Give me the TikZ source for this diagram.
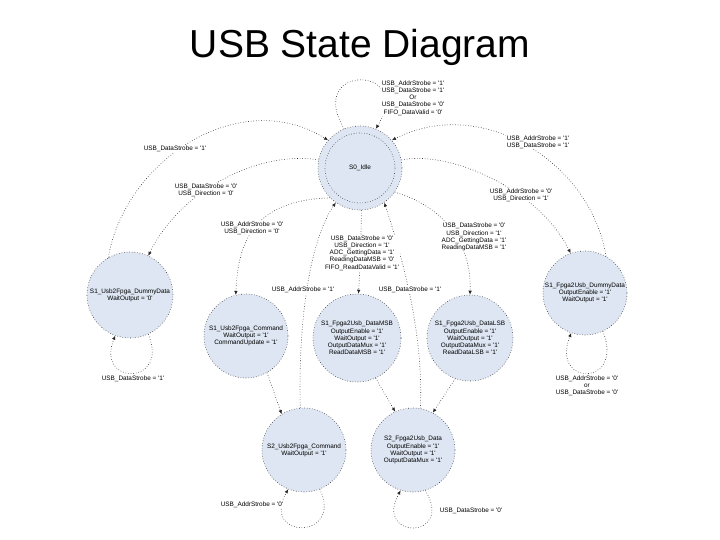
\documentclass[tikz,border=0pt]{standalone}
\usepackage{fontspec}
\setmainfont{Liberation Sans}[Ligatures=TeXOff]
\usetikzlibrary{arrows.meta}
\definecolor{stfill}{RGB}{221,230,242}
\begin{document}
\begin{tikzpicture}[x=1pt,y=-1pt,
  stnode/.style={circle, draw=black!80, dotted, line width=0.6pt, fill=stfill, minimum size=#1, inner sep=0pt, align=center, font=\fontsize{6.4}{7.2}\selectfont},
  edge/.style={draw=black!85, dotted, line width=0.6pt, -{Latex[length=4pt,width=3.5pt]}},
  lab/.style={fill=white, inner sep=0.6pt, align=center, font=\fontsize{6.4}{7.2}\selectfont},
]
\useasboundingbox (0,0) rectangle (720,540);
\fill[white] (0,0) rectangle (720,540);

\node[font=\fontsize{39}{44}\selectfont, anchor=base] (title) at (360,58) {USB State Diagram};

% states
\node[stnode=84] (s0) at (360,168) {S0\_Idle};
\draw[black!80, dotted, line width=0.6pt] (s0.center) circle (35);
\node[stnode=86] (d1) at (130,295) {S1\_Usb2Fpga\_DummyData\\WaitOutput = '0'};
\node[stnode=84] (d2) at (585,293) {S1\_Fpga2Usb\_DummyData\\OutputEnable = '1'\\WaitOutput = '1'};
\node[stnode=84] (c1) at (246,336) {S1\_Usb2Fpga\_Command\\WaitOutput = '1'\\CommandUpdate = '1'};
\node[stnode=88] (m) at (357,338) {S1\_Fpga2Usb\_DataMSB\\OutputEnable = '1'\\WaitOutput = '1'\\OutputDataMux = '1'\\ReadDataMSB = '1'};
\node[stnode=86] (l) at (470,338) {S1\_Fpga2Usb\_DataLSB\\OutputEnable = '1'\\WaitOutput = '1'\\OutputDataMux = '1'\\ReadDataLSB = '1'};
\node[stnode=84] (c2) at (304,450) {S2\_Usb2Fpga\_Command\\WaitOutput = '1'};
\node[stnode=84] (s2d) at (413,450) {S2\_Fpga2Usb\_Data\\OutputEnable = '1'\\WaitOutput = '1'\\OutputDataMux = '1'};

% self loops
\draw[edge] (s0.112) .. controls (305,64) and (415,64) .. (s0.68);
\draw[edge] (d1.-65) .. controls (170,386) and (95,386) .. (d1.250);
\draw[edge] (d2.-65) .. controls (625,387) and (550,387) .. (d2.251);
\draw[edge] (c2.-68) .. controls (344,540) and (260,540) .. (c2.-112);
\draw[edge] (s2d.-73) .. controls (455,540) and (373,540) .. (s2d.-107);

% transitions
\draw[edge] (d1.120) .. controls (125,160) and (240,85) .. (s0.139);
\draw[edge] (s0.169) .. controls (260,150) and (180,190) .. (d1.65);
\draw[edge] (d2.60) .. controls (590,160) and (480,95) .. (s0.41);
\draw[edge] (s0.11) .. controls (450,150) and (540,190) .. (d2.110);
\draw[edge] (s0.225) .. controls (255,200) and (238,240) .. (c1.104);
\draw[edge] (s0.-88) .. controls (361,240) and (360,265) .. (m.88);
\draw[edge] (s0.-35) .. controls (440,205) and (472,240) .. (l.90);
\draw[edge] (c2.95) .. controls (298,320) and (310,240) .. (s0.235);
\draw[edge] (s2d.80) .. controls (424,330) and (400,250) .. (s0.-55);
\draw[edge] (c1.-60) -- (c2.122);
\draw[edge] (m.-65) -- (s2d.115);
\draw[edge] (l.-110) -- (s2d.62);

% labels
\node[lab] (l0) at (413,98) {USB\_AddrStrobe = '1'\\USB\_DataStrobe = '1'\\Or\\USB\_DataStrobe = '0'\\FIFO\_DataValid = '0'};
\node[lab] (l1) at (175,149) {USB\_DataStrobe = '1'};
\node[lab] (l2) at (206,190) {USB\_DataStrobe = '0'\\USB\_Direction = '0'};
\node[lab] (l3) at (538,142) {USB\_AddrStrobe = '1'\\USB\_DataStrobe = '1'};
\node[lab] (l4) at (521,195) {USB\_AddrStrobe = '0'\\USB\_Direction = '1'};
\node[lab] (l5) at (252,228) {USB\_AddrStrobe = '0'\\USB\_Direction = '0'};
\node[lab] (l6) at (362,253) {USB\_DataStrobe = '0'\\USB\_Direction = '1'\\ADC\_GettingData = '1'\\ReadingDataMSB = '0'\\FIFO\_ReadDataValid = '1'};
\node[lab] (l7) at (474,237) {USB\_DataStrobe = '0'\\USB\_Direction = '1'\\ADC\_GettingData = '1'\\ReadingDataMSB = '1'};
\node[lab] (l8) at (303,290) {USB\_AddrStrobe = '1'};
\node[lab] (l9) at (410,290) {USB\_DataStrobe = '1'};
\node[lab] (l10) at (133,379) {USB\_DataStrobe = '1'};
\node[lab] (l11) at (587,386) {USB\_AddrStrobe = '0'\\or\\USB\_DataStrobe = '0'};
\node[lab] (l12) at (252,505) {USB\_AddrStrobe = '0'};
\node[lab] (l13) at (471,511) {USB\_DataStrobe = '0'};
\end{tikzpicture}
\end{document}
